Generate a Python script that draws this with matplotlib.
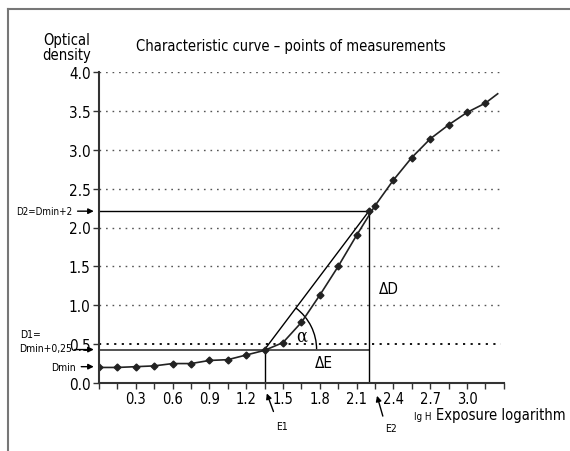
import matplotlib
matplotlib.use('Agg')
import matplotlib.pyplot as plt
from matplotlib.patches import Arc
from matplotlib.lines import Line2D
import numpy as np

plt.rcParams['font.family'] = ['DejaVu Sans']
plt.rcParams['font.stretch'] = 'condensed'

# measured points of the characteristic curve
log_h = [0.0, 0.15, 0.3, 0.45, 0.6, 0.75, 0.9, 1.05, 1.2, 1.35, 1.5,
         1.65, 1.8, 1.95, 2.1, 2.25, 2.4, 2.55, 2.7, 2.85, 3.0, 3.15]
density = [0.20, 0.20, 0.21, 0.22, 0.25, 0.25, 0.29, 0.30, 0.36, 0.42, 0.52,
           0.78, 1.13, 1.50, 1.90, 2.28, 2.61, 2.90, 3.14, 3.32, 3.48, 3.60]
tail_x = 3.25
tail_y = 3.72

# construction values
d_min = 0.21
d1 = 0.43
d2 = 2.21
e1 = 1.35
e2 = 2.2

xticks = [0.3, 0.6, 0.9, 1.2, 1.5, 1.8, 2.1, 2.4, 2.7, 3.0]
yticks = [0.0, 0.5, 1.0, 1.5, 2.0, 2.5, 3.0, 3.5, 4.0]

fig = plt.figure(figsize=(5.7, 4.52), dpi=100)
ax = fig.add_axes([99 / 570, 1 - 384 / 452, (3.3 * 122.67) / 570, (384 - 73) / 452])

# grid lines
for y in yticks[1:]:
    if y == 0.5:
        ax.plot([0, 3.28], [y, y], color='black', lw=1.3, ls=(0, (1.2, 3)))
    else:
        ax.plot([0, 3.28], [y, y], color='#555555', lw=1.0, ls=(0, (1.2, 3.5)))

# construction lines
ax.plot([0, e2], [d2, d2], color='black', lw=1.0)
ax.plot([0, e2], [d1, d1], color='#444444', lw=1.3)
ax.plot([e1, e1], [0, d1], color='black', lw=1.0)
ax.plot([e2, e2], [0, d2], color='black', lw=1.0)
ax.plot([e1, e2], [d1, d2], color='black', lw=1.0)

# the curve
ax.plot(log_h + [tail_x], density + [tail_y], color='#222222', lw=1.2,
        marker='D', markersize=3.5, markevery=list(range(len(log_h))))
ax.plot([e2], [d2], marker='D', markersize=3.5, color='#222222')

# angle arc
ang = np.degrees(np.arctan2(d2 - d1, e2 - e1))
ax.add_patch(Arc((e1, d1), 2 * 52 / 122.67, 2 * 52 / 77.75, theta1=0, theta2=ang,
                 color='black', lw=1.0))

ax.text(1.65, 0.61, 'α', fontsize=13, ha='center', va='center', family='DejaVu Serif')
ax.text(1.83, 0.27, 'ΔE', fontsize=11, ha='center', va='center')
ax.text(2.36, 1.21, 'ΔD', fontsize=11, ha='center', va='center')

ax.set_xlim(0, 3.3)
ax.set_ylim(0, 4.0)
ax.set_xticks(np.arange(0, 3.31, 0.15), minor=True)
ax.set_xticks(xticks)
ax.set_xticklabels(['%.1f' % v for v in xticks], fontsize=10.5)
ax.set_yticks(yticks)
ax.set_yticklabels(['%.1f' % v for v in yticks], fontsize=11)
ax.tick_params(axis='x', which='both', length=4, width=1, color='#333333', pad=1.5)
ax.tick_params(axis='y', length=4, width=1, color='#333333', pad=2)
for s in ['top', 'right']:
    ax.spines[s].set_visible(False)
for s in ['left', 'bottom']:
    ax.spines[s].set_color('#333333')
    ax.spines[s].set_linewidth(1.5)

arrow = dict(arrowstyle='-|>', color='black', lw=1.0, mutation_scale=8)

# left annotations
ax.annotate('D2=Dmin+2', xy=(-0.02, d2), xytext=(-0.22, d2), xycoords='data',
            fontsize=7, ha='right', va='center', arrowprops=arrow, annotation_clip=False)
ax.annotate('', xy=(-0.02, d1), xytext=(-0.22, d1),
            arrowprops=arrow, annotation_clip=False)
ax.text(-0.22, d1 + 0.02, 'Dmin+0,25', fontsize=7.5, ha='right', va='center')
ax.text(-0.64, d1 + 0.2, 'D1=', fontsize=7.5, ha='left', va='center')
ax.annotate('Dmin', xy=(-0.02, d_min), xytext=(-0.19, d_min),
            fontsize=7.5, ha='right', va='center', arrowprops=arrow, annotation_clip=False)

# E1 / E2 markers
ax.annotate('', xy=(1.36, -0.1), xytext=(1.43, -0.4), arrowprops=arrow, annotation_clip=False)
ax.text(1.49, -0.55, 'E1', fontsize=7.5, ha='center', va='center')
ax.annotate('', xy=(2.26, -0.13), xytext=(2.32, -0.46), arrowprops=arrow, annotation_clip=False)
ax.text(2.38, -0.58, 'E2', fontsize=7.5, ha='center', va='center')

# axis titles
fig.text(423 / 570, 1 - 417 / 452, 'lg H', fontsize=7, ha='center', va='center')
fig.text(436 / 570, 1 - 416 / 452, 'Exposure logarithm', fontsize=10.5, ha='left', va='center')
fig.text(67 / 570, 1 - 48 / 452, 'Optical\ndensity', fontsize=10.5, ha='center', va='center',
         linespacing=0.95)
fig.text(291 / 570, 1 - 46 / 452, 'Characteristic curve – points of measurements',
         fontsize=10.5, ha='center', va='center')

# outer frame
fig.add_artist(Line2D([8 / 570, 1], [1 - 10 / 452, 1 - 10 / 452], color='#777777', lw=1.5))
fig.add_artist(Line2D([8 / 570, 8 / 570], [0, 1 - 10 / 452], color='#777777', lw=1.5))

fig.savefig('out.png', dpi=100)
